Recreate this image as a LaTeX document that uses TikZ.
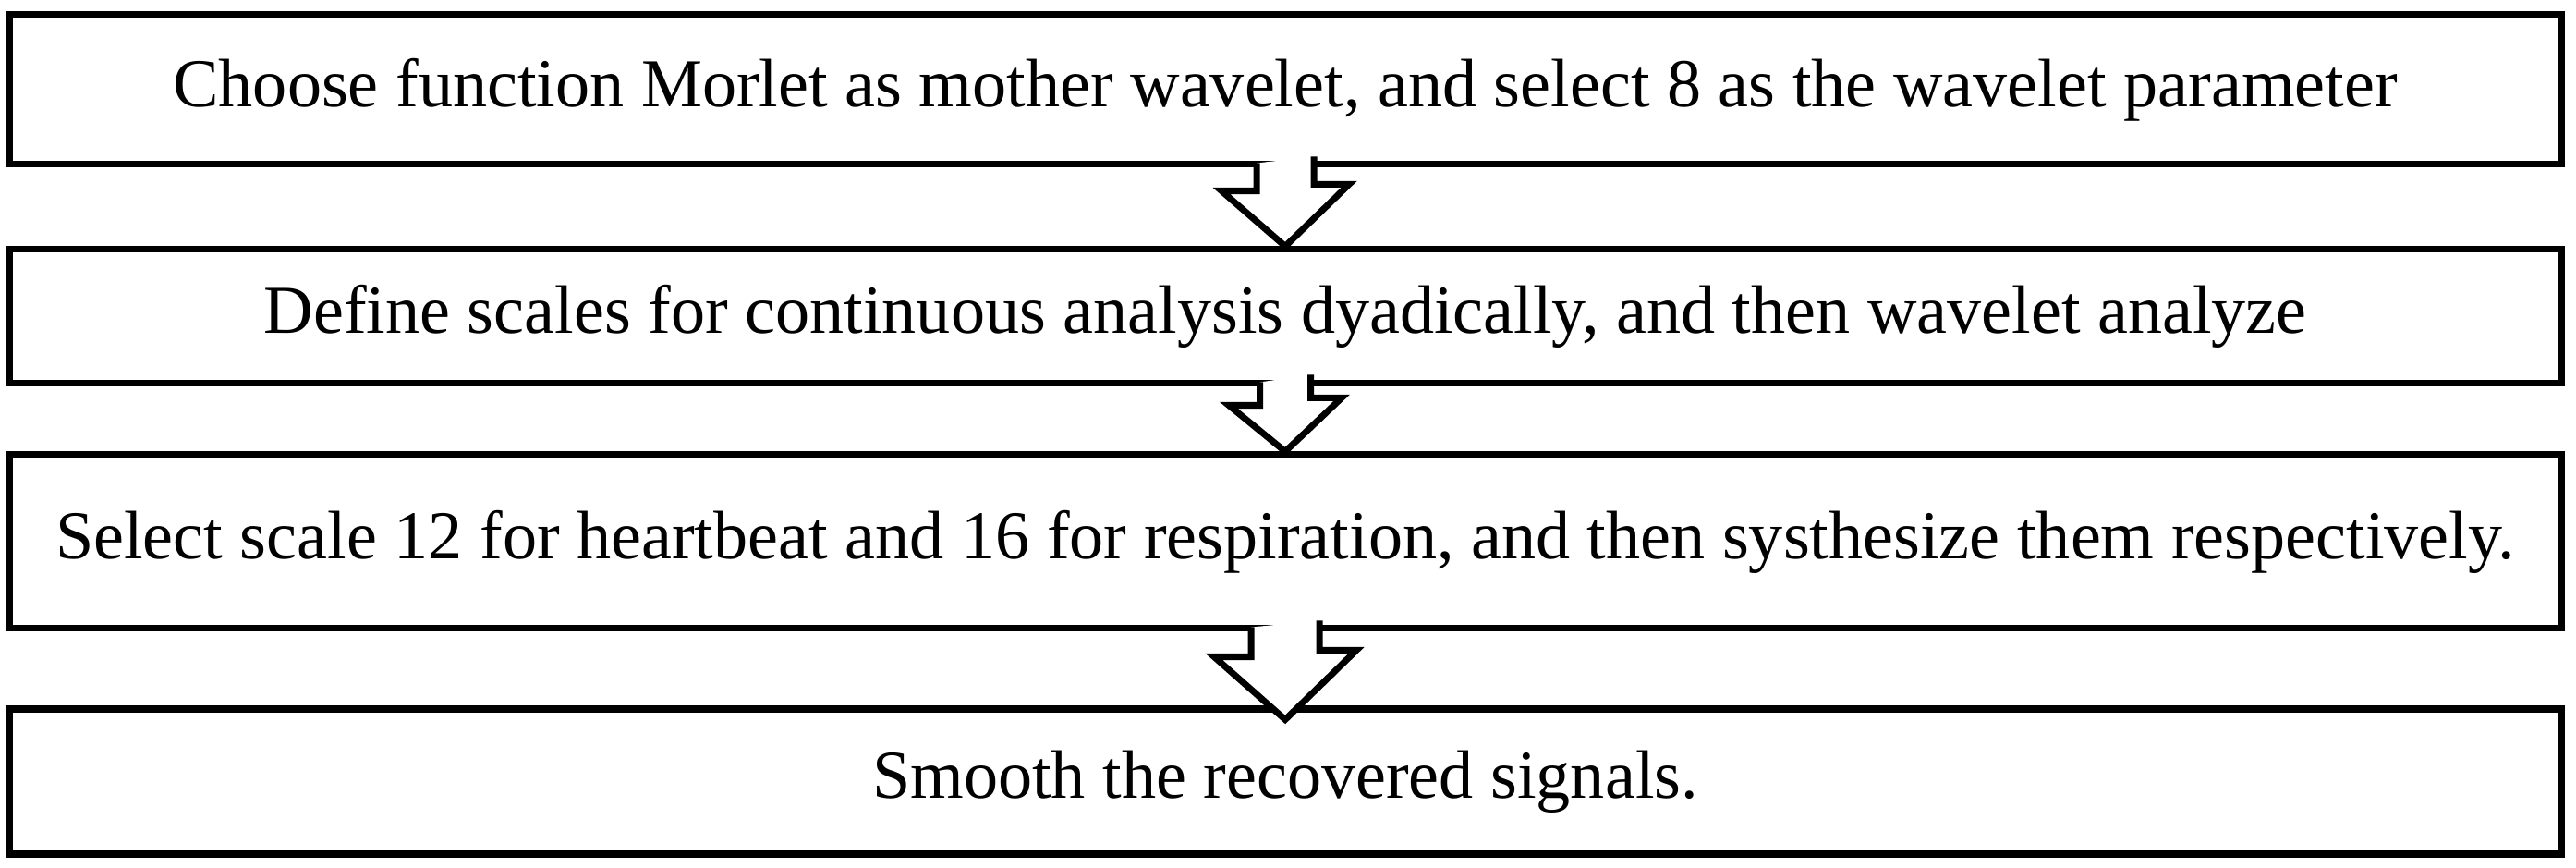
\documentclass[tikz,border=0pt]{standalone}
\usepackage{fontspec}
\setmainfont{Liberation Serif}
\tikzset{
    stagebox/.style={draw, line width=2pt, rectangle, minimum width=27.62cm,
        inner sep=0pt, font=\fontsize{21.1}{25}\selectfont},
    hollow/.style={draw, fill=white, line width=2pt, line join=miter}
}
\begin{document}
\begin{tikzpicture}
    \useasboundingbox (0,0) rectangle (27.88,9.39);

    \node[stagebox, minimum height=1.62cm] (choose) at (13.91,8.42)
        {Choose function Morlet as mother wavelet, and select 8 as the wavelet parameter};
    \node[stagebox, minimum height=1.45cm] (define) at (13.91,5.965)
        {Define scales for continuous analysis dyadically, and then wavelet analyze};
    \node[stagebox, minimum height=1.88cm] (select) at (13.91,3.53)
        {Select scale 12 for heartbeat and 16 for respiration, and then systhesize them respectively.};
    \node[stagebox, minimum height=1.57cm] (smooth) at (13.91,0.935)
        {Smooth the recovered signals.};

    % block arrows between the stages
    \path[hollow] (choose.south) ++(-0.31,0.05) -- ++(0,-0.30) -- ++(-0.38,0)
        -- (define.north) -- ++(0.69,0.67) -- ++(-0.38,0) -- ++(0,0.30);
    \path[hollow] (define.south) ++(-0.275,0.05) -- ++(0,-0.25) -- ++(-0.335,0)
        -- (select.north) -- ++(0.61,0.58) -- ++(-0.335,0) -- ++(0,0.25);
    \path[hollow] (select.south) ++(-0.37,0.05) -- ++(0,-0.32) -- ++(-0.40,0)
        -- ([yshift=-1.5mm]smooth.north) -- ++(0.77,0.75) -- ++(-0.40,0) -- ++(0,0.32);
\end{tikzpicture}
\end{document}
